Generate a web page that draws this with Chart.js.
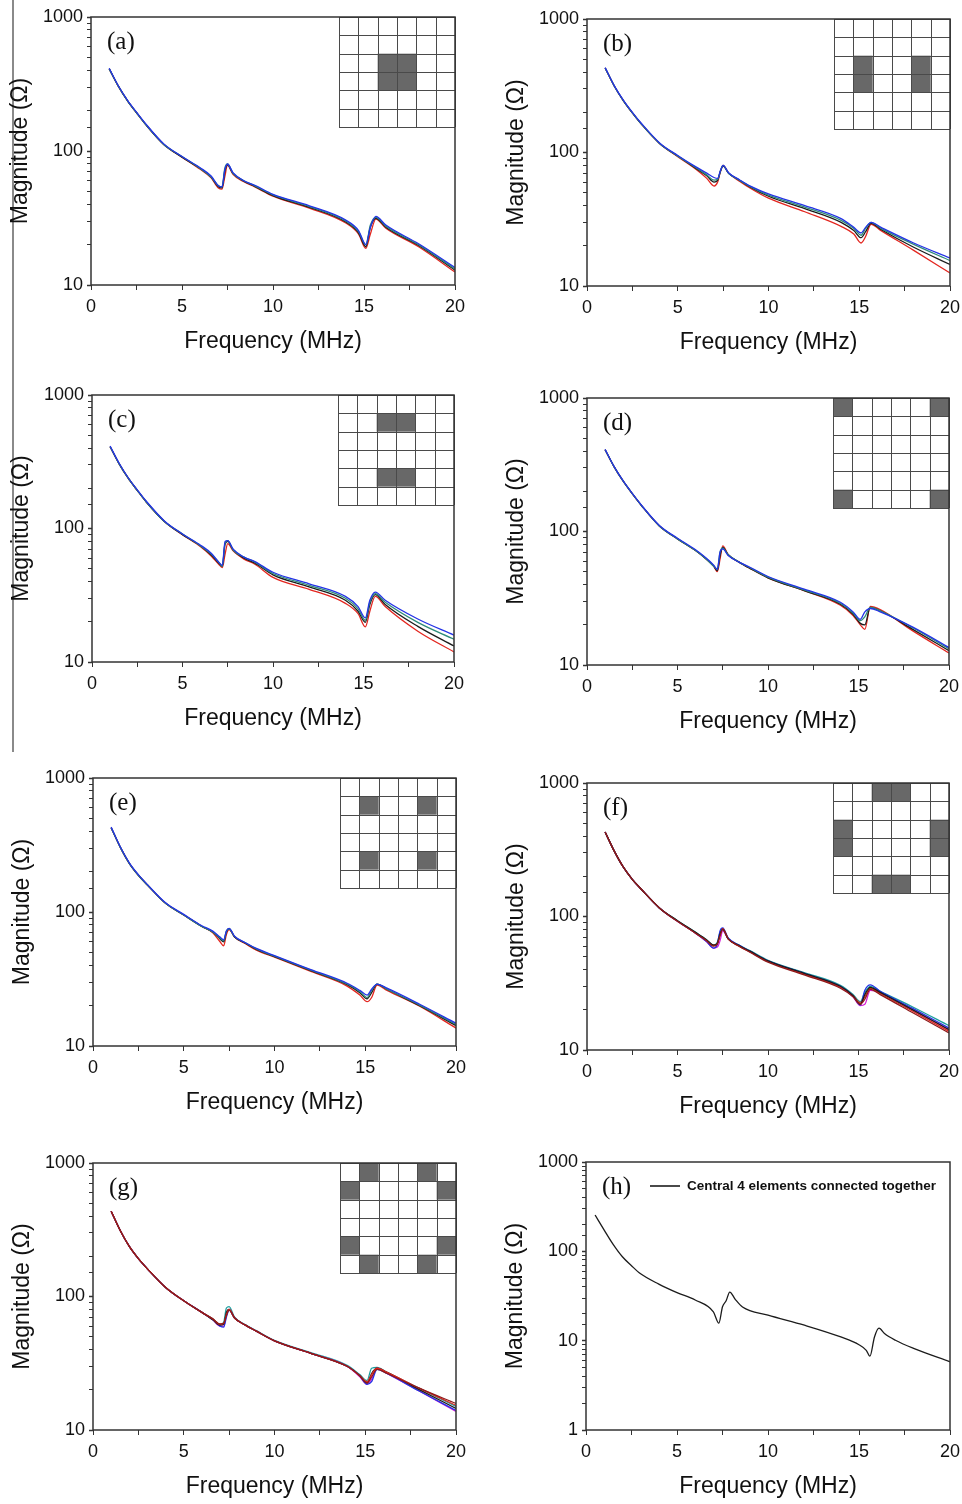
<!DOCTYPE html>
<html>
<head>
<meta charset="utf-8">
<script src="https://cdn.jsdelivr.net/npm/chart.js@4.4.1/dist/chart.umd.min.js"></script>
<style>
  html, body { margin: 0; padding: 0; background: #fff; overflow: hidden; }
  body { width: 962px; height: 1504px; position: relative; }
  #rule { position: absolute; left: 12px; top: 0; width: 2px; height: 752px; background: #8a8a8a; }
</style>
</head>
<body>
<div id="rule"></div>
<script>
'use strict';

// ── data ────────────────────────────────────────────
const freqAG = [1, 1.5, 2, 2.5, 3, 4, 5, 6, 6.6, 7.0, 7.2, 7.35, 7.5, 7.8, 8.4, 9, 10, 12, 14, 14.7, 15.1, 15.35, 15.65, 16.2, 18, 20];

const aRed   = [410, 305, 238, 193, 158, 112, 90, 73, 63, 53, 52, 64, 78, 67, 59, 54, 46, 37.5, 29, 24, 18.8, 24, 31, 26.5, 19.3, 12.5];
const aBlack = [410, 305, 238, 193, 158, 112, 90, 74, 64, 54, 53, 70, 79, 68, 59.5, 54.5, 46.5, 38, 29.5, 24.5, 19.3, 27, 31.5, 27, 19.7, 12.9];
const aGreen = [410, 305, 238, 193, 158, 112, 91, 74, 64, 55, 54, 74, 80, 68, 60, 55, 47, 38.5, 30, 25, 20, 28, 32, 27.5, 20, 13.2];
const aBlue  = [414, 307, 240, 195, 160, 113, 91, 75, 65, 55, 54, 72, 80, 69, 60, 55.5, 47.5, 39, 30.5, 25.5, 20, 27, 32.5, 28, 20.3, 13.5];

const bRed   = [430, 315, 245, 198, 163, 117, 93, 75, 64, 56, 60, 72, 80, 70, 61, 54, 45.5, 36, 28, 24.5, 21, 23.5, 29, 26, 18.5, 12.5];
const bBlack = [430, 315, 245, 198, 163, 117, 94, 76, 67, 60, 62, 72, 79, 70, 62, 55, 47, 38, 30, 26, 23, 25.5, 29.5, 26.5, 19.5, 14.5];
const bGreen = [430, 315, 245, 198, 163, 117, 94, 77, 68, 62, 63, 73, 80, 70, 62, 55.5, 48, 39, 31, 27, 24, 27, 30, 27, 20.5, 15.5];
const bBlue  = [432, 317, 247, 200, 165, 118, 95, 78, 70, 65, 64, 73, 80, 70.5, 62.5, 56, 49, 40, 32, 27.5, 25, 27.5, 30, 27.5, 21, 16.2];

const cRed   = [410, 305, 238, 193, 158, 113, 90, 73, 62, 54, 51, 64, 77, 68, 59, 54, 43, 35, 27.5, 23, 18.3, 24, 31, 26, 17, 11.9];
const cBlack = [410, 305, 238, 193, 158, 113, 90, 74, 63, 55, 52, 76, 80, 69, 60, 55, 45, 36.5, 29, 24, 19.8, 27, 32, 27, 18.5, 13.2];
const cGreen = [410, 305, 238, 193, 158, 113, 91, 74, 64, 56, 52, 78, 81, 69, 61, 56, 46, 37.5, 30, 25, 20.5, 28, 32.5, 28, 19.8, 14.8];
const cBlue  = [415, 308, 240, 195, 160, 114, 91, 75, 65, 56, 53, 80, 81, 70, 61, 56.5, 47, 38.5, 31, 26, 21.4, 29, 33.4, 29, 21, 15.9];

const dRed   = [410, 305, 238, 192, 157, 110, 88, 72, 62, 55, 50, 62, 78, 67, 59, 53, 45, 36, 28, 23.5, 20, 18.5, 27.5, 26, 18, 12.3];
const dBlack = [410, 305, 238, 192, 157, 110, 88, 72, 62, 55, 51, 66, 76, 67, 59, 53, 45, 36, 28.5, 24, 20.5, 20, 27, 25.5, 18.5, 12.8];
const dGreen = [410, 305, 238, 192, 157, 110, 88, 72, 62, 55, 52, 70, 75, 67, 59, 53.5, 45.5, 36.5, 29, 24.5, 21.5, 23, 27, 25.5, 19, 13.2];
const dBlue  = [412, 306, 239, 193, 158, 111, 89, 73, 63, 56, 52, 70, 74, 66, 59, 54, 46, 37, 29.5, 25, 22, 25, 26.5, 25, 19.2, 13.5];

const eRed   = [426, 305, 231, 188, 159, 116, 95, 78, 70, 60, 56, 68, 74, 65, 58, 52, 46, 36, 28, 24, 21.4, 23, 28.5, 26, 19.8, 13.6];
const eBlack = [426, 305, 231, 188, 159, 116, 95, 78, 71, 63, 60, 71, 75, 65, 58.5, 52.5, 46.5, 36.5, 28.7, 25, 22.5, 25, 29, 26.5, 20, 14.2];
const eGreen = [426, 305, 231, 188, 159, 116, 95, 78, 71, 64, 61, 72, 75, 65.5, 59, 53, 46.8, 36.8, 29, 25.5, 23, 26, 29, 26.5, 20.2, 14.5];
const eBlue  = [430, 307, 233, 190, 160, 117, 96, 79, 72, 65, 62, 72, 75.5, 66, 59, 53.5, 47.2, 37.2, 29.4, 26, 24, 26.5, 29, 27, 20.5, 14.8];

const fMaroon  = [430, 310, 235, 190, 160, 116, 92, 75, 66, 60, 62, 72, 80, 68, 60, 54, 45.5, 36.5, 29, 25, 22, 24, 28.5, 26, 19, 13.4];
const fRed     = [430, 310, 235, 190, 160, 116, 92, 75, 66, 61, 63, 72, 81, 68, 60, 54.5, 46, 37, 29.5, 25.5, 22.5, 25, 29, 26.5, 19.5, 13.8];
const fBlack   = [430, 310, 235, 190, 160, 116, 93, 76, 67, 61, 63, 74, 80, 68, 60.5, 55, 46.5, 37.5, 30, 25.5, 22, 26, 29.5, 27, 20, 14.2];
const fBlue    = [430, 310, 235, 190, 160, 116, 92, 75, 65, 58, 62, 78, 82, 69, 61, 55, 46.5, 37.5, 30, 25.5, 21.7, 28, 30.7, 27.5, 20.5, 14.6];
const fMagenta = [430, 310, 235, 190, 160, 116, 92, 75, 65, 58, 59, 66, 78, 68, 60.5, 54.5, 46, 37, 29.5, 25, 21.5, 22, 28, 27, 20, 14.2];
const fTeal    = [430, 310, 235, 190, 160, 116, 93, 76, 67, 61, 64, 76, 81, 68.5, 61, 55.5, 47, 38, 30.5, 26, 23, 27, 30, 27.5, 21, 15.2];

const gMaroon  = [435, 312, 237, 192, 161, 117, 93, 76, 68, 62, 63, 72, 79, 69, 61, 55, 46.5, 37.5, 30, 25.5, 22.5, 25, 28.5, 26.5, 20.5, 15.8];
const gRed     = [435, 312, 237, 192, 161, 117, 93, 76, 68, 62, 63, 73, 80, 69, 61, 55, 46.5, 37.5, 30, 25.5, 23, 26, 29, 27, 20.5, 15.3];
const gBlack   = [435, 312, 237, 192, 161, 117, 93, 76, 67, 61, 62, 76, 80, 69, 61, 55, 46.5, 37.5, 30, 25.5, 22.5, 26.5, 29, 27, 20, 14.5];
const gBlue    = [435, 312, 237, 192, 161, 117, 93, 76, 67, 60, 59, 70, 79, 69, 61, 55, 46.5, 37.5, 30, 25.5, 22, 23, 28.5, 26.5, 19.5, 14];
const gMagenta = [435, 312, 237, 192, 161, 117, 93, 76, 67, 60, 60, 72, 80, 69, 61, 55, 46.5, 37.5, 30, 25, 22, 24, 29, 26.5, 19.5, 13.8];
const gTeal    = [435, 312, 237, 192, 161, 117, 93, 76, 68, 62, 64, 82, 84, 70, 61.5, 55.5, 47, 38, 30.5, 26, 23.5, 29, 29.5, 27, 20.5, 15];

const freqH    = [0.5, 1, 1.5, 2, 2.5, 3, 4, 5, 6, 7, 7.3, 7.5, 7.7, 7.9, 8.2, 8.6, 10, 12, 14, 15, 15.4, 15.6, 15.85, 16.1, 16.4, 17, 18, 20];
const hCentral = [255, 173, 119, 87, 69, 56, 43, 34.5, 28.5, 21, 15.7, 24, 28, 35, 29, 23.8, 19.3, 14.9, 11, 9, 7.8, 6.7, 11, 13.8, 12, 10.1, 8.2, 5.8];
const hLegend  = 'Central 4 elements connected together';

// filled cells [row, col] of the 6x6 array sketches
const insetA = [[2, 2], [2, 3], [3, 2], [3, 3]];
const insetB = [[2, 1], [3, 1], [2, 4], [3, 4]];
const insetC = [[1, 2], [1, 3], [4, 2], [4, 3]];
const insetD = [[0, 0], [0, 5], [5, 0], [5, 5]];
const insetE = [[1, 1], [1, 4], [4, 1], [4, 4]];
const insetF = [[0, 2], [0, 3], [2, 0], [3, 0], [2, 5], [3, 5], [5, 2], [5, 3]];
const insetG = [[0, 1], [0, 4], [1, 0], [1, 5], [4, 0], [4, 5], [5, 1], [5, 4]];

const xTicks = [0, 5, 10, 15, 20];

// ── styles / layout ─────────────────────────────────
const COLORS = {
  red: '#e3261f', black: '#1c1c1c', green: '#2e8b7a', blue: '#2433e6',
  maroon: '#8e1b1b', magenta: '#d61fd6', teal: '#1e9e9e',
};
const SANS = '"Liberation Sans", Arial, sans-serif';
const SERIF = '"Liberation Serif", "Times New Roman", serif';
const Y_AXIS_W = 82, X_AXIS_H = 70, PAD_TOP = 15, PAD_RIGHT = 18;
const INSET_W = 116, INSET_H = 110;

const panels = [
  { label: '(a)', rect: [91, 17, 455, 285], yMin: 10, freq: freqAG, cells: insetA,
    series: [['blue', aBlue], ['green', aGreen], ['black', aBlack], ['red', aRed]] },
  { label: '(b)', rect: [587, 19, 950, 286], yMin: 10, freq: freqAG, cells: insetB,
    series: [['blue', bBlue], ['green', bGreen], ['black', bBlack], ['red', bRed]] },
  { label: '(c)', rect: [92, 395, 454, 662], yMin: 10, freq: freqAG, cells: insetC,
    series: [['blue', cBlue], ['green', cGreen], ['black', cBlack], ['red', cRed]] },
  { label: '(d)', rect: [587, 398, 949, 665], yMin: 10, freq: freqAG, cells: insetD,
    series: [['blue', dBlue], ['green', dGreen], ['black', dBlack], ['red', dRed]] },
  { label: '(e)', rect: [93, 778, 456, 1046], yMin: 10, freq: freqAG, cells: insetE,
    series: [['blue', eBlue], ['green', eGreen], ['black', eBlack], ['red', eRed]] },
  { label: '(f)', rect: [587, 783, 949, 1050], yMin: 10, freq: freqAG, cells: insetF,
    series: [['maroon', fMaroon], ['black', fBlack], ['red', fRed], ['blue', fBlue], ['teal', fTeal], ['magenta', fMagenta]] },
  { label: '(g)', rect: [93, 1163, 456, 1430], yMin: 10, freq: freqAG, cells: insetG,
    series: [['maroon', gMaroon], ['red', gRed], ['black', gBlack], ['blue', gBlue], ['magenta', gMagenta], ['teal', gTeal]] },
  { label: '(h)', rect: [586, 1162, 950, 1430], yMin: 1, freq: freqH, cells: null, legend: hLegend,
    series: [['black', hCentral]] },
];

// frame, inset sketch, panel letter and legend
const decorPlugin = {
  id: 'decor',
  afterDraw(chart, args, o) {
    const { ctx, chartArea: a } = chart;
    ctx.save();
    if (o.cells) {
      const x0 = a.right - INSET_W, y0 = a.top;
      const cw = INSET_W / 6, ch = INSET_H / 6;
      ctx.fillStyle = '#fff';
      ctx.fillRect(x0, y0, INSET_W, INSET_H);
      ctx.fillStyle = '#686868';
      o.cells.forEach(([r, c]) => ctx.fillRect(x0 + c * cw, y0 + r * ch, cw, ch));
      ctx.strokeStyle = '#4a4a4a';
      ctx.lineWidth = 1;
      ctx.beginPath();
      for (let i = 0; i <= 6; i++) {
        ctx.moveTo(Math.round(x0 + i * cw) + 0.5, y0);
        ctx.lineTo(Math.round(x0 + i * cw) + 0.5, y0 + INSET_H);
        ctx.moveTo(x0, Math.round(y0 + i * ch) + 0.5);
        ctx.lineTo(x0 + INSET_W, Math.round(y0 + i * ch) + 0.5);
      }
      ctx.stroke();
    }
    ctx.strokeStyle = '#333';
    ctx.lineWidth = 1.5;
    ctx.strokeRect(a.left, a.top, a.right - a.left, a.bottom - a.top);

    ctx.fillStyle = '#111';
    ctx.textBaseline = 'middle';
    ctx.font = '25px ' + SERIF;
    ctx.fillText(o.label, a.left + 16, a.top + 25);

    if (o.legend) {
      ctx.strokeStyle = COLORS.black;
      ctx.lineWidth = 1.6;
      ctx.beginPath();
      ctx.moveTo(a.left + 64, a.top + 24);
      ctx.lineTo(a.left + 94, a.top + 24);
      ctx.stroke();
      ctx.font = 'bold 13.5px ' + SANS;
      ctx.fillText(o.legend, a.left + 101, a.top + 24);
    }
    ctx.restore();
  },
};

function isDecade(v) {
  const l = Math.log10(v);
  return Math.abs(l - Math.round(l)) < 1e-9;
}

function makePanel(p) {
  const [l, t, r, b] = p.rect;
  const w = (r - l) + Y_AXIS_W + PAD_RIGHT;
  const h = PAD_TOP + (b - t) + X_AXIS_H;
  const canvas = document.createElement('canvas');
  canvas.width = w;
  canvas.height = h;
  canvas.style.cssText = `position:absolute;left:${l - Y_AXIS_W}px;top:${t - PAD_TOP}px;width:${w}px;height:${h}px;`;
  document.body.appendChild(canvas);

  new Chart(canvas, {
    type: 'line',
    data: {
      datasets: p.series.map(([color, vals]) => ({
        label: color,
        data: vals.map((v, i) => ({ x: p.freq[i], y: v })),
        borderColor: COLORS[color],
        borderWidth: 1.3,
        pointRadius: 0,
        fill: false,
        cubicInterpolationMode: 'monotone',
      })),
    },
    options: {
      responsive: false,
      animation: false,
      events: [],
      layout: { padding: { top: PAD_TOP, right: PAD_RIGHT, left: 0, bottom: 0 } },
      plugins: {
        legend: { display: false },
        tooltip: { enabled: false },
        decor: { label: p.label, cells: p.cells, legend: p.legend },
      },
      scales: {
        x: {
          type: 'linear',
          min: 0,
          max: 20,
          afterFit: s => { s.height = X_AXIS_H; },
          grid: { drawOnChartArea: false, drawTicks: true, tickLength: 5, tickColor: '#333' },
          border: { display: false },
          ticks: {
            stepSize: 2.5,
            autoSkip: false,
            maxRotation: 0,
            padding: 6,
            color: '#111',
            font: { family: SANS, size: 18 },
            callback: v => (xTicks.includes(v) ? String(v) : ''),
          },
          title: {
            display: true,
            text: 'Frequency (MHz)',
            color: '#111',
            font: { family: SANS, size: 23, lineHeight: 1 },
            padding: { top: 0, bottom: 2 },
          },
        },
        y: {
          type: 'logarithmic',
          min: p.yMin,
          max: 1000,
          afterFit: s => { s.width = Y_AXIS_W; },
          grid: {
            drawOnChartArea: false, drawTicks: true, tickLength: 4, tickColor: '#333',
            tickWidth: c => (isDecade(c.tick.value) ? 1.5 : 1),
          },
          border: { display: false },
          ticks: {
            autoSkip: false,
            padding: 4,
            color: '#111',
            font: { family: SANS, size: 18 },
            callback: v => (isDecade(v) ? String(v) : ''),
          },
          title: {
            display: true,
            text: 'Magnitude (Ω)',
            color: '#111',
            font: { family: SANS, size: 23, lineHeight: 1 },
            padding: { top: 0, bottom: 0 },
          },
        },
      },
    },
    plugins: [decorPlugin],
  });
}

panels.forEach(makePanel);
</script>
</body>
</html>
